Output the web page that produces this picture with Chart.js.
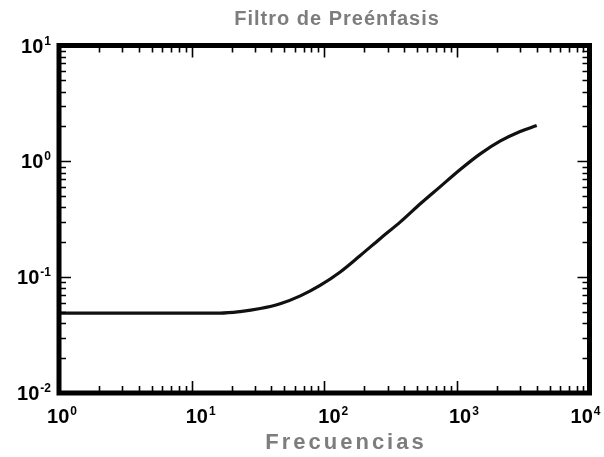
<!DOCTYPE html>
<html>
<head>
<meta charset="utf-8">
<title>Filtro de Preénfasis</title>
<script src="https://cdn.jsdelivr.net/npm/chart.js@4/dist/chart.umd.min.js"></script>
<style>
  html, body { margin: 0; padding: 0; background: #fff; }
  #wrap { width: 604px; height: 457px; }
</style>
</head>
<body>
<div id="wrap"><canvas id="filterChart" width="604" height="457"></canvas></div>
<script>
// Magnitude response of the pre-emphasis filter (log-log)
const freq = [1, 10, 16.4, 23.2, 32.9, 46.5, 66, 93, 132, 187, 265, 375, 530, 750, 1060, 1500, 2130, 3000, 4000];
const gain = [0.049, 0.049, 0.049, 0.0505, 0.0536, 0.059, 0.069, 0.085, 0.111, 0.154, 0.216, 0.30, 0.43, 0.605, 0.85, 1.16, 1.50, 1.81, 2.04];

// decade exponents used for ticks and labels
const xExponents = [0, 1, 2, 3, 4];
const yExponents = [-2, -1, 0, 1];

const titleText = 'Filtro de Preénfasis';
const xTitleText = 'Frecuencias';

const FONT = '"Liberation Sans", Arial, sans-serif';

// frame, inward ticks, power-of-ten labels and titles
const framePlugin = {
    id: 'frame',
    afterDatasetsDraw(chart) {
        const { ctx, chartArea: a, scales: { x, y } } = chart;
        ctx.save();
        ctx.strokeStyle = '#000';

        // ticks on all four sides, pointing inward
        ctx.lineWidth = 1.6;
        const tick = (major) => (major ? 12 : 7);
        for (let d = xExponents[0]; d < xExponents[xExponents.length - 1]; d++) {
            for (let m = 1; m <= 9; m++) {
                const px = Math.round(x.getPixelForValue(m * Math.pow(10, d))) + 0.5;
                const len = tick(m === 1);
                ctx.beginPath();
                ctx.moveTo(px, a.bottom); ctx.lineTo(px, a.bottom - len);
                ctx.moveTo(px, a.top); ctx.lineTo(px, a.top + len);
                ctx.stroke();
            }
        }
        for (let d = yExponents[0]; d < yExponents[yExponents.length - 1]; d++) {
            for (let m = 1; m <= 9; m++) {
                const py = Math.round(y.getPixelForValue(m * Math.pow(10, d))) + 0.5;
                const len = tick(m === 1);
                ctx.beginPath();
                ctx.moveTo(a.left, py); ctx.lineTo(a.left + len, py);
                ctx.moveTo(a.right, py); ctx.lineTo(a.right - len, py);
                ctx.stroke();
            }
        }

        // heavy box
        ctx.lineWidth = 5;
        ctx.strokeRect(a.left, a.top, a.right - a.left, a.bottom - a.top);

        // "10" with a raised exponent
        const power = (exp, px, py, align) => {
            ctx.font = 'bold 20px ' + FONT;
            const wb = ctx.measureText('10').width;
            ctx.font = 'bold 12px ' + FONT;
            const sup = String(exp);
            const we = ctx.measureText(sup).width;
            let left = px;
            if (align === 'center') left = px - (wb + we + 1) / 2;
            if (align === 'right') left = px - (wb + we + 1);
            ctx.fillStyle = '#000';
            ctx.textAlign = 'left';
            ctx.textBaseline = 'alphabetic';
            ctx.font = 'bold 20px ' + FONT;
            ctx.fillText('10', left, py);
            ctx.font = 'bold 12px ' + FONT;
            ctx.fillText(sup, left + wb + 1, py - 8);
        };

        const xShift = [3, 9, 9, 7, -4];
        xExponents.forEach((e, i) => {
            power(e, x.getPixelForValue(Math.pow(10, e)) + xShift[i], 423, 'center');
        });
        yExponents.forEach((e) => {
            power(e, 51, y.getPixelForValue(Math.pow(10, e)) + 7, 'right');
        });

        // titles in grey, spaced out
        ctx.fillStyle = '#7d7d7d';
        ctx.textAlign = 'center';
        ctx.textBaseline = 'alphabetic';
        ctx.font = 'bold 20px ' + FONT;
        ctx.letterSpacing = '1px';
        ctx.fillText(titleText, 337, 25);
        ctx.font = 'bold 22px ' + FONT;
        ctx.letterSpacing = '3px';
        ctx.fillText(xTitleText, 346, 449);
        ctx.restore();
    }
};

const chart = new Chart(document.getElementById('filterChart'), {
    type: 'line',
    data: {
        labels: freq,
        datasets: [{
            data: freq.map((f, i) => ({ x: f, y: gain[i] })),
            borderColor: '#111',
            borderWidth: 3.2,
            pointRadius: 0,
            fill: false,
            cubicInterpolationMode: 'monotone'
        }]
    },
    options: {
        responsive: false,
        animation: false,
        layout: { padding: { left: 59, right: 14.5, top: 45.5, bottom: 64 } },
        plugins: { legend: { display: false }, tooltip: { enabled: false }, title: { display: false } },
        scales: {
            x: { type: 'logarithmic', min: 1, max: 10000, display: false },
            y: { type: 'logarithmic', min: 0.01, max: 10, display: false }
        }
    },
    plugins: [framePlugin]
});
</script>
</body>
</html>
